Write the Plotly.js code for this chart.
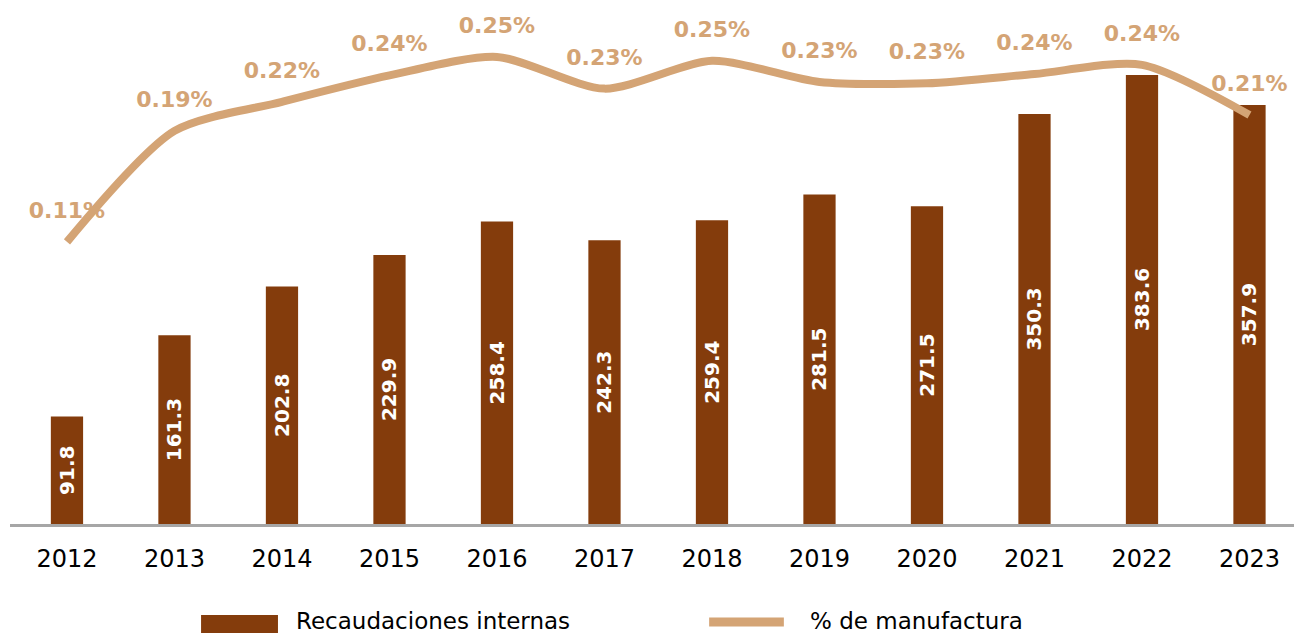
<!DOCTYPE html>
<html>
<head>
<meta charset="utf-8">
<script src="https://cdn.plot.ly/plotly-3.0.1.min.js"></script>
<style>
html,body{margin:0;padding:0;background:#fff;}
#chart{width:1294px;height:633px;}
</style>
</head>
<body>
<div id="chart"></div>
<script>
// ---- data ----
const years = ['2012','2013','2014','2015','2016','2017','2018','2019','2020','2021','2022','2023'];
const recaudaciones = [91.8, 161.3, 202.8, 229.9, 258.4, 242.3, 259.4, 281.5, 271.5, 350.3, 383.6, 357.9];
const pctManufactura = [0.110, 0.194, 0.216, 0.236, 0.250, 0.226, 0.247, 0.231, 0.230, 0.237, 0.244, 0.206];
const pctLabels = ['0.11%','0.19%','0.22%','0.24%','0.25%','0.23%','0.25%','0.23%','0.23%','0.24%','0.24%','0.21%'];
const seriesNames = ['Recaudaciones internas', '% de manufactura'];

// ---- style ----
const BAR_COLOR = '#843C0C';
const LINE_COLOR = '#D4A475';
const FONT = '"DejaVu Sans", sans-serif';
const Y2_RANGE = [-0.1035, 0.2855];
const LABEL_SHIFT = 0.0076; // label axis shifted so labels sit a little closer to the line

const barTrace = {
  type: 'bar',
  x: years,
  y: recaudaciones,
  name: seriesNames[0],
  width: 0.3,
  marker: {color: BAR_COLOR},
  text: recaudaciones.map(v => v.toFixed(1)),
  textposition: 'inside',
  insidetextanchor: 'middle',
  textangle: -90,
  constraintext: 'none',
  textfont: {family: FONT, size: 20, color: '#ffffff', weight: 'bold'},
  showlegend: false
};

const lineTrace = {
  type: 'scatter',
  mode: 'lines',
  x: years,
  y: pctManufactura,
  yaxis: 'y2',
  name: seriesNames[1],
  line: {color: LINE_COLOR, width: 8, shape: 'spline', smoothing: 0.75},
  showlegend: false
};

const labelTrace = {
  type: 'scatter',
  mode: 'text',
  x: years,
  y: pctManufactura,
  yaxis: 'y3',
  text: pctLabels.map(t => t + '<br> '),
  textposition: 'top center',
  textfont: {family: FONT, size: 22, color: LINE_COLOR, weight: 'bold'},
  cliponaxis: false,
  showlegend: false,
  hoverinfo: 'skip'
};

const layout = {
  width: 1294,
  height: 633,
  margin: {l: 10, r: 0, t: 10, b: 109},
  paper_bgcolor: '#ffffff',
  plot_bgcolor: '#ffffff',
  font: {family: FONT, color: '#000000'},
  showlegend: false,
  xaxis: {
    type: 'category',
    range: [-0.530, 11.414],
    showline: true,
    linecolor: '#A6A6A6',
    linewidth: 3,
    showgrid: false,
    zeroline: false,
    ticks: '',
    ticklabelstandoff: 11,
    tickfont: {family: FONT, size: 24, color: '#000000'},
    fixedrange: true
  },
  yaxis: {
    range: [0, 439.1],
    visible: false,
    showgrid: false,
    zeroline: false,
    fixedrange: true
  },
  yaxis2: {
    overlaying: 'y',
    side: 'right',
    range: Y2_RANGE,
    visible: false,
    fixedrange: true
  },
  yaxis3: {
    overlaying: 'y',
    side: 'right',
    range: [Y2_RANGE[0] + LABEL_SHIFT, Y2_RANGE[1] + LABEL_SHIFT],
    visible: false,
    fixedrange: true
  },
  shapes: [
    {type: 'rect', xref: 'paper', yref: 'paper', x0: 0.1488, x1: 0.2087, y0: -0.177, y1: -0.215,
     fillcolor: BAR_COLOR, line: {width: 0}},
    {type: 'line', xref: 'paper', yref: 'paper', x0: 0.5445, x1: 0.6027, y0: -0.1907, y1: -0.1907,
     line: {color: LINE_COLOR, width: 9}}
  ],
  annotations: [
    {xref: 'paper', yref: 'paper', x: 0.2212, y: -0.1887, xanchor: 'left', yanchor: 'middle',
     text: seriesNames[0], showarrow: false, font: {family: FONT, size: 23, color: '#000000'}},
    {xref: 'paper', yref: 'paper', x: 0.6215, y: -0.1887, xanchor: 'left', yanchor: 'middle',
     text: seriesNames[1], showarrow: false, font: {family: FONT, size: 23, color: '#000000'}}
  ]
};

Plotly.newPlot('chart', [barTrace, lineTrace, labelTrace], layout, {displayModeBar: false, staticPlot: true});
</script>
</body>
</html>
